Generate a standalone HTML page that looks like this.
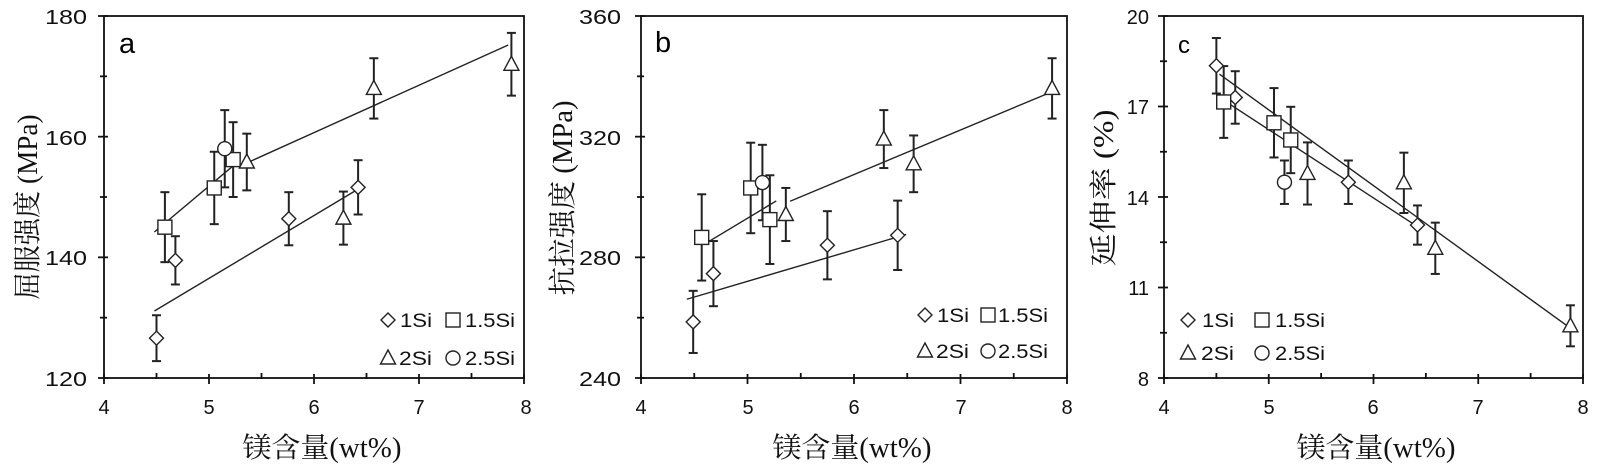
<!DOCTYPE html>
<html><head><meta charset="utf-8">
<style>
html,body{margin:0;padding:0;background:#fff;}
svg{display:block;}
.tk{font-family:"Liberation Sans",Arial,sans-serif;font-size:20px;fill:#111;}
.lg{font-family:"Liberation Sans",Arial,sans-serif;font-size:19px;fill:#111;}
.ti{font-family:"Liberation Serif","Noto Serif CJK SC",serif;font-size:28px;fill:#111;}
.pl{font-family:"Liberation Sans",Arial,sans-serif;font-size:29px;fill:#000;}
</style></head>
<body>
<svg id="s" width="1599" height="468" viewBox="0 0 1599 468" xmlns="http://www.w3.org/2000/svg">
<g stroke="#111" fill="none" stroke-width="1.8" id="axes"></g>
<g id="data" stroke="#222" fill="none"></g>
<g class="tk" text-anchor="end">
<text x="87" y="24" textLength="42" lengthAdjust="spacingAndGlyphs">180</text><text x="87" y="145" textLength="42" lengthAdjust="spacingAndGlyphs">160</text><text x="87" y="265" textLength="42" lengthAdjust="spacingAndGlyphs">140</text><text x="87" y="386" textLength="42" lengthAdjust="spacingAndGlyphs">120</text>
<text x="621" y="24" textLength="42" lengthAdjust="spacingAndGlyphs">360</text><text x="621" y="145" textLength="42" lengthAdjust="spacingAndGlyphs">320</text><text x="621" y="265" textLength="42" lengthAdjust="spacingAndGlyphs">280</text><text x="621" y="386" textLength="42" lengthAdjust="spacingAndGlyphs">240</text>
<text x="1149" y="24">20</text><text x="1149" y="114">17</text><text x="1149" y="205">14</text><text x="1149" y="295">11</text><text x="1149" y="386">8</text>
</g>
<g class="tk" text-anchor="middle">
<text x="104" y="414">4</text><text x="209" y="414">5</text><text x="314" y="414">6</text><text x="419" y="414">7</text><text x="526" y="414">8</text>
<text x="641" y="414">4</text><text x="748" y="414">5</text><text x="854" y="414">6</text><text x="961" y="414">7</text><text x="1067" y="414">8</text>
<text x="1164" y="414">4</text><text x="1269" y="414">5</text><text x="1373" y="414">6</text><text x="1478" y="414">7</text><text x="1583" y="414">8</text>
</g>
<g class="ti" text-anchor="middle">
<text x="322" y="457" textLength="159" lengthAdjust="spacingAndGlyphs">镁含量(wt%)</text>
<text x="852" y="457" textLength="159" lengthAdjust="spacingAndGlyphs">镁含量(wt%)</text>
<text x="1376" y="457" textLength="159" lengthAdjust="spacingAndGlyphs">镁含量(wt%)</text>
<text transform="translate(37,207) rotate(-90)" textLength="185" lengthAdjust="spacingAndGlyphs">屈服强度 (MPa)</text>
<text transform="translate(572,198) rotate(-90)" textLength="195" lengthAdjust="spacingAndGlyphs">抗拉强度 (MPa)</text>
<text transform="translate(1113,188) rotate(-90)" textLength="157" lengthAdjust="spacingAndGlyphs">延伸率 (%)</text>
</g>
<text class="pl" x="119" y="53">a</text>
<text class="pl" x="655" y="52">b</text>
<text class="pl" x="1178" y="53" style="font-size:24px">c</text>
<g class="lg">
<text x="400" y="327" textLength="32" lengthAdjust="spacingAndGlyphs">1Si</text><text x="465" y="327" textLength="50" lengthAdjust="spacingAndGlyphs">1.5Si</text>
<text x="399" y="365" textLength="33" lengthAdjust="spacingAndGlyphs">2Si</text><text x="465" y="365" textLength="50" lengthAdjust="spacingAndGlyphs">2.5Si</text>
<text x="937" y="322" textLength="32" lengthAdjust="spacingAndGlyphs">1Si</text><text x="998" y="322" textLength="50" lengthAdjust="spacingAndGlyphs">1.5Si</text>
<text x="936" y="358" textLength="33" lengthAdjust="spacingAndGlyphs">2Si</text><text x="998" y="358" textLength="50" lengthAdjust="spacingAndGlyphs">2.5Si</text>
<text x="1202" y="327" textLength="32" lengthAdjust="spacingAndGlyphs">1Si</text><text x="1275" y="327" textLength="50" lengthAdjust="spacingAndGlyphs">1.5Si</text>
<text x="1201" y="360" textLength="33" lengthAdjust="spacingAndGlyphs">2Si</text><text x="1275" y="360" textLength="50" lengthAdjust="spacingAndGlyphs">2.5Si</text>
</g>
</svg>
<script>
(function(){
var NS="http://www.w3.org/2000/svg";
var ax=document.getElementById('axes'),dg=document.getElementById('data');
function el(p,t,a){var e=document.createElementNS(NS,t);for(var k in a)e.setAttribute(k,a[k]);p.appendChild(e);return e;}
function line(p,x1,y1,x2,y2,w){el(p,'line',{x1:x1,y1:y1,x2:x2,y2:y2,'stroke-width':w||1.8});}
function marker(p,type,x,y){
 if(type=='d'){el(p,'polygon',{points:(x)+','+(y-7)+' '+(x+7)+','+y+' '+x+','+(y+7)+' '+(x-7)+','+y,fill:'#fff','stroke-width':1.4});}
 else if(type=='s'){el(p,'rect',{x:x-7,y:y-7,width:14,height:14,fill:'#fff','stroke-width':1.4});}
 else if(type=='t'){el(p,'polygon',{points:x+','+(y-8)+' '+(x+7.5)+','+(y+6)+' '+(x-7.5)+','+(y+6),fill:'#fff','stroke-width':1.4});}
 else if(type=='c'){el(p,'circle',{cx:x,cy:y,r:7,fill:'#fff','stroke-width':1.4});}
}
var panels=[
 {L:104,R:524,T:16,B:378,x0:4,x1:8,y0:120,y1:180,yt:[120,140,160,180],
  lines:[[4.48,144.2,5.26,155.6],[5.38,155.8,7.85,175.2],[4.48,131.1,6.42,151.3]],
  pts:[['d',4.5,126.6,3.8],['d',4.68,139.5,4],['d',5.76,146.4,4.4],['d',6.42,151.6,4.5],
   ['s',4.58,145,5.8],['s',5.05,151.5,6],['s',5.23,156.2,6.2],['c',5.15,158,6.4],
   ['t',5.36,155.8,4.7],['t',6.28,146.5,4.4],['t',6.57,168,5],['t',7.88,172,5.2]],
  leg:[['d',388,320],['s',453,320],['t',388,358],['c',453,358]]},
 {L:641,R:1067,T:16,B:378,x0:4,x1:8,y0:240,y1:360,yt:[240,280,320,360],
  lines:[[4.63,285.1,5.27,298.7],[5.40,298.6,7.86,334.9],[4.43,266.1,6.49,287.6]],
  pts:[['d',4.49,258.6,10.3],['d',4.68,274.6,10.8],['d',5.75,284,11.3],['d',6.41,287.3,11.5],
   ['s',4.57,286.6,14.3],['s',5.03,303,15],['s',5.21,292.5,14.7],['c',5.14,304.8,12.5],
   ['t',5.36,294.2,8.8],['t',6.28,319.2,9.6],['t',6.56,311,9.4],['t',7.86,336,10]],
  leg:[['d',925,315],['s',988,315],['t',925,351],['c',988,351]]},
 {L:1164,R:1583,T:16,B:378,x0:4,x1:8,y0:8,y1:20,yt:[8,11,14,17,20],
  lines:[[4.53,18.07,7.88,9.65],[4.52,17.32,6.41,13.04]],
  pts:[['d',4.50,18.35,0.92],['d',4.68,17.3,0.87],['d',5.76,14.49,0.72],['d',6.42,13.07,0.65],
   ['s',4.57,17.15,1.19],['s',5.05,16.46,1.15],['s',5.21,15.89,1.1],['c',5.15,14.49,0.72],
   ['t',5.37,14.78,1.03],['t',6.29,14.47,1.0],['t',6.59,12.3,0.85],['t',7.88,9.73,0.68]],
  leg:[['d',1188,320],['s',1262,320],['t',1188,353],['c',1262,353]]}
];
panels.forEach(function(P){
 function X(v){return P.L+(v-P.x0)/(P.x1-P.x0)*(P.R-P.L);}
 function Y(v){return P.B-(v-P.y0)/(P.y1-P.y0)*(P.B-P.T);}
 el(ax,'rect',{x:P.L,y:P.T,width:P.R-P.L,height:P.B-P.T,'stroke-width':1.8});
 for(var i=0;i<P.yt.length;i++){var y=Y(P.yt[i]);line(ax,P.L-6,y,P.L+4,y);
  if(i<P.yt.length-1){var ym=(y+Y(P.yt[i+1]))/2;line(ax,P.L-4,ym,P.L+3,ym);}}
 for(var v=4;v<=8;v+=0.5){var x=X(v);if(v%1==0)line(ax,x,P.B-4,x,P.B+6);else line(ax,x,P.B-5,x,P.B+1);}
 P.lines.forEach(function(l){line(dg,X(l[0]),Y(l[1]),X(l[2]),Y(l[3]),1.4);});
 P.pts.forEach(function(p){var x=X(p[1]),yt=Y(p[2]+p[3]),yb=Y(p[2]-p[3]);
  line(dg,x,yt,x,yb,2);line(dg,x-4.5,yt,x+4.5,yt,2);line(dg,x-4.5,yb,x+4.5,yb,2);});
 P.pts.forEach(function(p){marker(dg,p[0],X(p[1]),Y(p[2]));});
 P.leg.forEach(function(m){marker(dg,m[0],m[1],m[2]);});
});
})();
</script>
</body></html>
